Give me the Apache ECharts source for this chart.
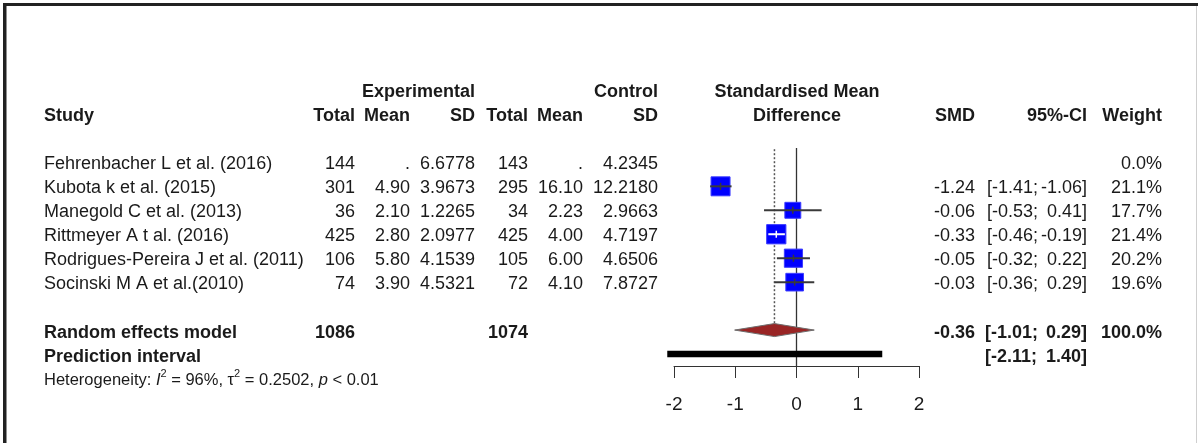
<!DOCTYPE html>
<html><head><meta charset="utf-8">
<script src="https://cdn.jsdelivr.net/npm/echarts@6/dist/echarts.min.js"></script>
<style>html,body{margin:0;padding:0;background:#fff}#c{width:1198px;height:443px}</style>
</head><body><div id="c"></div>
<script>
// ---------- data ----------
const studies = ['Fehrenbacher L et al. (2016)','Kubota k et al. (2015)','Manegold C et al. (2013)','Rittmeyer A t al. (2016)','Rodrigues-Pereira J et al. (2011)','Socinski M A et al.(2010)'];
const expTotal = [144, 301, 36, 425, 106, 74];
const expMean = [null, 4.90, 2.10, 2.80, 5.80, 3.90];
const expSD = [6.6778, 3.9673, 1.2265, 2.0977, 4.1539, 4.5321];
const ctrlTotal = [143, 295, 34, 425, 105, 72];
const ctrlMean = [null, 16.10, 2.23, 4.00, 6.00, 4.10];
const ctrlSD = [4.2345, 12.2180, 2.9663, 4.7197, 4.6506, 7.8727];
const smd = [null, -1.24, -0.06, -0.33, -0.05, -0.03];
const ciLow = [null, -1.41, -0.53, -0.46, -0.32, -0.36];
const ciHigh = [null, -1.06, 0.41, -0.19, 0.22, 0.29];
const weight = [0.0, 21.1, 17.7, 21.4, 20.2, 19.6];
const totalExp = 1086;
const totalCtrl = 1074;
const pooledSMD = -0.36;
const pooledCI = [-1.01, 0.29];
const pooledWeight = 100.0;
const predCI = [-2.11, 1.40];
const xTicks = [-2, -1, 0, 1, 2];
const hetero = {I2: '96%', tau2: '0.2502', p: '< 0.01'};

// ---------- layout ----------
const FONT = '"Liberation Sans", Arial, sans-serif';
const TXT = '#1a1a1a';
const COL = {study:44, eT:355, eM:410, eSD:475, cT:528, cM:583, cSD:658, mid:797, smd:975, ciL:987, ciR:1087, w:1162};
const ROW_SUM = 7, ROW_PRED = 8, ROW_HET = 9;
const TEXT_DY = 2;

const cells = [];
function cell(row, x, align, text, bold) { cells.push({row, x, align, text, bold: !!bold}); }
const f2 = v => v == null ? '.' : v.toFixed(2);

cell(-3, COL.eSD, 'right', 'Experimental', true);
cell(-3, COL.cSD, 'right', 'Control', true);
cell(-3, COL.mid, 'center', 'Standardised Mean', true);
cell(-2, COL.study, 'left', 'Study', true);
cell(-2, COL.eT, 'right', 'Total', true);
cell(-2, COL.eM, 'right', 'Mean', true);
cell(-2, COL.eSD, 'right', 'SD', true);
cell(-2, COL.cT, 'right', 'Total', true);
cell(-2, COL.cM, 'right', 'Mean', true);
cell(-2, COL.cSD, 'right', 'SD', true);
cell(-2, COL.mid, 'center', 'Difference', true);
cell(-2, COL.smd, 'right', 'SMD', true);
cell(-2, COL.ciR, 'right', '95%-CI', true);
cell(-2, COL.w, 'right', 'Weight', true);

studies.forEach((s, i) => {
  cell(i, COL.study, 'left', s);
  cell(i, COL.eT, 'right', String(expTotal[i]));
  cell(i, COL.eM, 'right', f2(expMean[i]));
  cell(i, COL.eSD, 'right', expSD[i].toFixed(4));
  cell(i, COL.cT, 'right', String(ctrlTotal[i]));
  cell(i, COL.cM, 'right', f2(ctrlMean[i]));
  cell(i, COL.cSD, 'right', ctrlSD[i].toFixed(4));
  if (smd[i] != null) {
    cell(i, COL.smd, 'right', smd[i].toFixed(2));
    cell(i, COL.ciL, 'left', '[' + ciLow[i].toFixed(2) + ';');
    cell(i, COL.ciR, 'right', ciHigh[i].toFixed(2) + ']');
  }
  cell(i, COL.w, 'right', weight[i].toFixed(1) + '%');
});
const RS = ROW_SUM + 0.06, RP = ROW_PRED + 0.04;
cell(RS, COL.study, 'left', 'Random effects model', true);
cell(RS, COL.eT, 'right', String(totalExp), true);
cell(RS, COL.cT, 'right', String(totalCtrl), true);
cell(RS, COL.smd, 'right', pooledSMD.toFixed(2), true);
cell(RS, COL.ciL - 2, 'left', '[' + pooledCI[0].toFixed(2) + ';', true);
cell(RS, COL.ciR, 'right', pooledCI[1].toFixed(2) + ']', true);
cell(RS, COL.w, 'right', pooledWeight.toFixed(1) + '%', true);
cell(RP, COL.study, 'left', 'Prediction interval', true);
cell(RP, COL.ciL - 2, 'left', '[' + predCI[0].toFixed(2) + ';', true);
cell(RP, COL.ciR, 'right', predCI[1].toFixed(2) + ']', true);

const forestData = [];
studies.forEach((s, i) => { if (smd[i] != null) forestData.push([smd[i], i, ciLow[i], ciHigh[i], weight[i]]); });

const chart = echarts.init(document.getElementById('c'), null, {renderer: 'canvas'});
chart.setOption({
  backgroundColor: '#fff',
  animation: false,
  grid: {left: 674, right: 279, top: 148, height: 218, outerBoundsMode: 'none'},
  xAxis: {
    type: 'value', min: xTicks[0], max: xTicks[xTicks.length - 1], interval: 1,
    position: 'bottom',
    axisLine: {show: true, onZero: false, lineStyle: {color: '#333', width: 1}},
    axisTick: {show: true, inside: false, length: 12, lineStyle: {color: '#333', width: 1}},
    axisLabel: {show: true, margin: 29, fontSize: 19, fontFamily: FONT, color: TXT},
    splitLine: {show: false}
  },
  yAxis: {type: 'value', inverse: true, min: -0.6, max: 8.5, show: false, splitLine: {show: false}},
  graphic: [
    {type: 'rect', shape: {x: 3, y: 3, width: 1195, height: 3}, style: {fill: '#222'}},
    {type: 'rect', shape: {x: 3, y: 3, width: 3.5, height: 440}, style: {fill: '#222'}},
    {type: 'rect', shape: {x: 1196, y: 6, width: 1, height: 437}, style: {fill: '#cfcfcf'}}
  ],
  series: [
    { // zero line
      type: 'custom', clip: false, silent: true, data: [[0]],
      renderItem: (p, api) => {
        const a = api.coord([api.value(0), -0.6]), b = api.coord([api.value(0), 8.5]);
        return {type: 'line', shape: {x1: a[0], y1: a[1], x2: b[0], y2: b[1]}, style: {stroke: '#333', lineWidth: 1.3}};
      }
    },
    { // pooled estimate dotted line
      type: 'custom', clip: false, silent: true, data: [[pooledSMD]],
      renderItem: (p, api) => {
        const a = api.coord([api.value(0), -0.55]), b = api.coord([api.value(0), 6.72]);
        return {type: 'line', shape: {x1: a[0], y1: a[1], x2: b[0], y2: b[1]}, style: {stroke: '#555', lineWidth: 1.5, lineDash: [2, 2]}};
      }
    },
    { // studies
      type: 'custom', clip: false, silent: true, data: forestData,
      renderItem: (p, api) => {
        const est = api.value(0), row = api.value(1), lo = api.value(2), hi = api.value(3), w = api.value(4);
        const c = api.coord([est, row]), pl = api.coord([lo, row]), ph = api.coord([hi, row]);
        const s = w * 0.9;
        const inside = pl[0] >= c[0] - s / 2 && ph[0] <= c[0] + s / 2;
        const lc = inside ? '#fff' : '#3a3a3a';
        return {type: 'group', children: [
          {type: 'rect', shape: {x: c[0] - s / 2, y: c[1] - s / 2, width: s, height: s}, style: {fill: '#0000ff', stroke: '#3b3bff', lineWidth: 1}},
          {type: 'line', shape: {x1: pl[0], y1: c[1], x2: ph[0], y2: c[1]}, style: {stroke: lc, lineWidth: 2}},
          {type: 'line', shape: {x1: c[0], y1: c[1] - 3.5, x2: c[0], y2: c[1] + 3.5}, style: {stroke: lc, lineWidth: 1.5}}
        ]};
      }
    },
    { // pooled diamond
      type: 'custom', clip: false, silent: true, data: [[pooledSMD, ROW_SUM, pooledCI[0], pooledCI[1]]],
      renderItem: (p, api) => {
        const c = api.coord([api.value(0), api.value(1)]);
        const l = api.coord([api.value(2), api.value(1)]), r = api.coord([api.value(3), api.value(1)]);
        return {type: 'polygon', shape: {points: [[l[0], c[1]], [c[0], c[1] - 6.5], [r[0], c[1]], [c[0], c[1] + 6.5]]},
          style: {fill: '#992525', stroke: '#6e6e6e', lineWidth: 1}};
      }
    },
    { // prediction interval bar
      type: 'custom', clip: false, silent: true, data: [[predCI[0], predCI[1], ROW_PRED]],
      renderItem: (p, api) => {
        const a = api.coord([api.value(0), api.value(2)]), b = api.coord([api.value(1), api.value(2)]);
        return {type: 'rect', shape: {x: a[0], y: a[1] - 3.2, width: b[0] - a[0], height: 6.4}, style: {fill: '#000'}};
      }
    },
    { // table text
      type: 'custom', clip: false, silent: true, data: cells.map((c, i) => [0, c.row, i]),
      renderItem: (p, api) => {
        const c = cells[p.dataIndex];
        const y = api.coord([0, c.row])[1] + TEXT_DY;
        return {type: 'text', x: c.x, y: y, style: {text: c.text, align: c.align, verticalAlign: 'middle',
          font: (c.bold ? 'bold ' : '') + '18px ' + FONT, fill: TXT}};
      }
    },
    { // heterogeneity
      type: 'custom', clip: false, silent: true, data: [[0, ROW_HET]],
      renderItem: (p, api) => {
        const y = api.coord([0, api.value(1)])[1] + TEXT_DY;
        const base = {fontSize: 16.5, fontFamily: FONT, color: TXT, lineHeight: 24};
        return {type: 'text', x: COL.study, y: y, style: {
          text: '{a|Heterogeneity: }{i|I}{s|2}{a| = ' + hetero.I2 + ', \u03c4}{s|2}{a| = ' + hetero.tau2 + ', }{i|p}{a| ' + hetero.p + '}',
          align: 'left', verticalAlign: 'middle', fill: TXT, font: '16.5px ' + FONT,
          rich: {
            a: base,
            i: Object.assign({}, base, {fontStyle: 'italic'}),
            s: {fontSize: 11, fontFamily: FONT, color: TXT, lineHeight: 12, verticalAlign: 'top'}
          }
        }};
      }
    }
  ]
});
</script>
</body></html>
